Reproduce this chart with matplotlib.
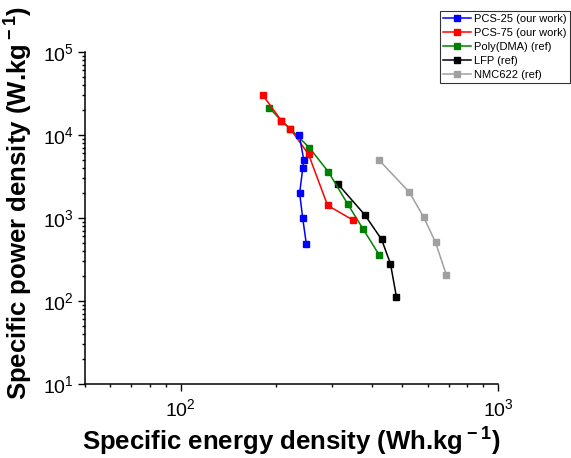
import matplotlib
matplotlib.use('Agg')
import matplotlib.pyplot as plt

plt.rcParams['font.family'] = ['Liberation Sans', 'DejaVu Sans']
plt.rcParams['mathtext.fontset'] = 'custom'
plt.rcParams['mathtext.rm'] = 'Liberation Sans'
plt.rcParams['mathtext.bf'] = 'Liberation Sans:bold'
plt.rcParams['mathtext.default'] = 'regular'

# energy (Wh/kg), power (W/kg)
pcs25_e = [236.6, 244.5, 242.6, 237.2, 242.6, 249.0]
pcs25_p = [10000, 4955, 3970, 1986, 991, 486]

pcs75_e = [181.5, 207.8, 221.8, 253.0, 290.5, 349.0]
pcs75_p = [30300, 14870, 11800, 5850, 1420, 946]

polydma_e = [190.6, 207.8, 221.8, 254.5, 292.0, 336.5, 376.3, 422.6]
polydma_p = [21100, 14870, 11800, 7030, 3610, 1462, 731, 358]

lfp_e = [312.4, 380.9, 429.7, 458.4, 478.8]
lfp_p = [2590, 1086, 553, 281, 111.7]

nmc_e = [422.6, 526.0, 583.0, 635.6, 687.7]
nmc_p = [4955, 2040, 1028, 509, 205.6]

series = [
    ('PCS-25 (our work)', pcs25_e, pcs25_p, '#0000FF', 5),
    ('PCS-75 (our work)', pcs75_e, pcs75_p, '#FF0000', 4),
    ('Poly(DMA) (ref)', polydma_e, polydma_p, '#008000', 3),
    ('LFP (ref)', lfp_e, lfp_p, '#000000', 2),
    ('NMC622 (ref)', nmc_e, nmc_p, '#A0A0A0', 1),
]

fig = plt.figure(figsize=(5.71, 4.58), dpi=100)
ax = fig.add_axes([85 / 571, 1 - 384 / 458, (498 - 85) / 571, (384 - 52) / 458])

handles = []
for label, e, p, color, z in series:
    l, = ax.plot(e, p, color=color, marker='s', markersize=5, linewidth=1.1,
                 markeredgecolor=color, label=label, zorder=z)
    handles.append(l)

ax.set_xscale('log')
ax.set_yscale('log')
ax.set_xlim(50, 1000)
ax.set_ylim(10, 1e5)

for s in ['top', 'right']:
    ax.spines[s].set_visible(False)
for s in ['left', 'bottom']:
    ax.spines[s].set_linewidth(1.1)

ax.tick_params(which='major', direction='out', length=5, width=1, labelsize=14)
ax.tick_params(which='minor', direction='out', length=2.5, width=1)
ax.tick_params(axis='x', which='major', pad=5)
ax.tick_params(axis='y', which='major', pad=3)

ax.set_xlabel(r'Specific energy density (Wh.kg$^{\bf -1}$)', fontsize=18.5, fontweight='bold')
ax.set_ylabel(r'Specific power density (W.kg$^{\bf -1}$)', fontsize=18.5, fontweight='bold')
ax.xaxis.set_label_coords(0.5, -0.125)
ax.yaxis.set_label_coords(-0.122, 0.545)

leg = fig.legend(handles=handles, loc='upper right', bbox_to_anchor=(570 / 571, 1 - 11 / 458),
                 fontsize=8, frameon=True, fancybox=False, edgecolor='#000000',
                 handlelength=2.5, labelspacing=0.35, borderpad=0.3, handletextpad=0.3,
                 borderaxespad=0)
leg.get_frame().set_linewidth(0.8)

plt.savefig('out.png', dpi=100)
